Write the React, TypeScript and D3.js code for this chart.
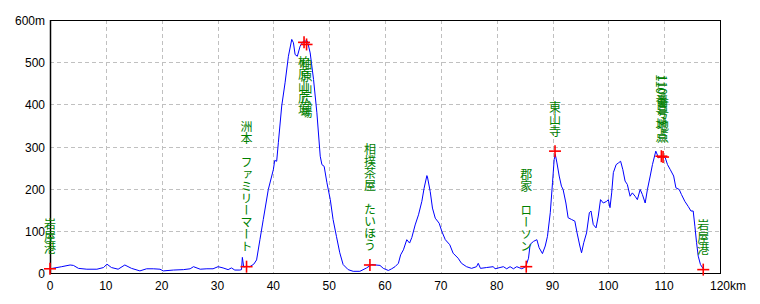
import React from "react";
import * as d3 from "d3";

const distKm = [
  0, 2.1, 3.6, 4.2, 5.1, 6.6, 8.4, 9.6, 10.2, 11.0, 12.2, 13.4, 14.6, 16.1, 17.3, 18.5, 19.7, 20.3, 22.1, 23.9,
  25.1, 25.7, 26.9, 28.1, 29.2, 30.1, 31.0, 31.9, 32.5, 33.1, 34.0, 34.3, 34.45, 34.7, 35.2, 35.8, 36.5, 37.0,
  37.6, 38.2, 39.1, 40.0, 40.25, 40.6, 40.9, 41.5, 42.1, 42.7, 43.3, 43.6, 43.9, 44.3, 44.8, 45.4, 46.1, 46.6,
  47.2, 47.8, 48.4, 48.7, 49.1, 49.6, 50.2, 50.7, 51.3, 51.9, 52.5, 53.4, 54.3, 55.5, 56.7, 57.6, 59.1, 59.7,
  60.6, 61.2, 61.8, 62.4, 62.8, 63.3, 63.9, 64.4, 64.8, 65.4, 66.0, 66.6, 67.0, 67.5, 67.6, 68.1, 68.5, 69.0,
  69.7, 70.2, 70.8, 71.6, 72.2, 73.1, 73.7, 74.6, 75.5, 76.4, 76.7, 77.1, 78.2, 79.4, 79.7, 80.6, 81.2, 81.8,
  82.4, 83.0, 83.6, 84.5, 85.2, 85.7, 86.0, 86.6, 87.2, 87.6, 88.2, 88.7, 89.1, 89.6, 90.0, 90.3, 90.5, 90.8,
  91.2, 91.6, 91.9, 92.4, 92.8, 93.4, 94.0, 94.4, 94.9, 95.2, 95.6, 96.1, 96.6, 96.9, 97.3, 97.8, 98.2, 98.6,
  99.1, 99.7, 100.0, 100.3, 100.6, 100.9, 101.4, 101.8, 102.2, 102.6, 103.0, 103.4, 103.9, 104.3, 104.8, 105.2,
  105.7, 106.1, 106.6, 107.0, 107.5, 107.9, 108.5, 109.0, 109.6, 110.2, 110.6, 111.1, 111.7, 112.1, 112.7,
  113.1, 113.7, 114.3, 114.8, 115.2, 115.5, 115.8, 116.1, 116.5, 117.0,
];
const elevM = [
  10, 15, 19, 18, 11, 9, 9, 13, 21, 13, 9, 19, 11, 5, 10, 10, 9, 5, 7, 8,
  10, 15, 9, 10, 10, 15, 12, 8, 12, 7, 7, 8, 37, 14, 16, 15, 21, 31,
  79, 127, 198, 245, 267, 265, 309, 396, 451, 514, 554, 546, 518, 514, 538, 550, 550, 522,
  459, 380, 277, 257, 253, 214, 174, 127, 87, 48, 20, 8, 4, 4, 12, 20, 18, 11,
  6, 10, 15, 23, 43, 55, 79, 71, 84, 114, 138, 170, 201, 231, 228, 193, 154, 130,
  118, 98, 79, 67, 47, 35, 23, 15, 11, 15, 23, 11, 13, 15, 10, 13, 15, 10,
  15, 10, 15, 10, 15, 35, 68, 75, 79, 60, 46, 64, 87, 143, 214, 269, 281, 261,
  230, 206, 198, 166, 131, 127, 123, 95, 64, 48, 72, 95, 143, 147, 115, 107, 135, 174,
  166, 170, 174, 155, 190, 238, 257, 261, 265, 245, 218, 210, 182, 190, 182, 174,
  198, 186, 166, 198, 230, 257, 289, 273, 277, 273, 257, 245, 230, 202, 198,
  186, 170, 158, 147, 147, 111, 72, 40, 20, 10,
];

const wpKm = [0, 35.2, 45.5, 45.95, 57.3, 85.3, 90.45, 109.5, 109.8, 117.0];
const wpElev = [10, 15, 547, 542, 19, 15, 289, 277, 275, 8];
const wpName = [
  "岩屋港",
  "洲本　ファミリーマート",
  "柏原山広場",
  "柏原山広場",
  "相撲茶屋　たいほう",
  "郡家　ローソン",
  "東山寺",
  "110番号地点",
  "110番号地点",
  "岩屋港",
];

const xTicks = [0, 10, 20, 30, 40, 50, 60, 70, 80, 90, 100, 110, 120];
const yTicks = [0, 100, 200, 300, 400, 500, 600];

const W = 760;
const H = 304;
const FONT = "'Liberation Sans', Arial, sans-serif";
const JFONT = "'Noto Sans CJK JP', sans-serif";

export default function App() {
  const x = d3.scaleLinear().domain([0, 120]).range([50, 720]);
  const y = d3.scaleLinear().domain([0, 600]).range([273, 20]);
  const line = d3
    .line<number>()
    .x((_, i) => x(distKm[i]))
    .y((d) => y(d));
  const path = line(elevM) || "";

  const labelLen = (s: string) => {
    let n = 0;
    for (const ch of s) n += /[0-9]/.test(ch) ? 6.7 : 12;
    return n;
  };

  return (
    <svg
      width={W}
      height={H}
      style={{ position: "absolute", left: 0, top: 0, background: "#fff" }}
    >
      <rect x={0} y={0} width={W} height={H} fill="#fff" />
      {xTicks
        .filter((t) => t > 0 && t < 120)
        .map((t) => (
          <line
            key={"gx" + t}
            x1={Math.round(x(t)) + 0.5}
            x2={Math.round(x(t)) + 0.5}
            y1={y(600)}
            y2={y(0)}
            stroke="#c0c0c0"
            strokeDasharray="4,3"
          />
        ))}
      {yTicks
        .filter((t) => t > 0 && t < 600)
        .map((t) => (
          <line
            key={"gy" + t}
            x1={x(0)}
            x2={x(120)}
            y1={Math.round(y(t)) + 0.5}
            y2={Math.round(y(t)) + 0.5}
            stroke="#c0c0c0"
            strokeDasharray="4,3"
          />
        ))}
      <rect
        x={x(0) + 0.5}
        y={y(600) + 0.5}
        width={x(120) - x(0)}
        height={y(0) - y(600)}
        fill="none"
        stroke="#000"
        strokeWidth={1}
      />
      <line x1={x(0) + 0.5} x2={x(0) + 0.5} y1={y(600)} y2={y(0) + 1} stroke="#000" strokeWidth={1.5} />
      {yTicks.map((t) => (
        <text
          key={"yl" + t}
          x={45}
          y={y(t) + 5}
          textAnchor="end"
          fontFamily={FONT}
          fontSize={12}
          fill="#000"
        >
          {t === 600 ? "600m" : String(t)}
        </text>
      ))}
      {xTicks.map((t) =>
        t === 120 ? (
          <text key={"xl" + t} x={x(t) - 10} y={290} fontFamily={FONT} fontSize={12} fill="#000">
            120km
          </text>
        ) : (
          <text
            key={"xl" + t}
            x={x(t)}
            y={290}
            textAnchor="middle"
            fontFamily={FONT}
            fontSize={12}
            fill="#000"
          >
            {t}
          </text>
        )
      )}
      <path d={path} fill="none" stroke="#0000ff" strokeWidth={1} />
      {wpKm.map((k, i) => {
        const cx = x(k);
        const cy = y(wpElev[i]);
        const len = labelLen(wpName[i]);
        const above = cy - 14 - len > y(600);
        return (
          <g key={"wp" + i}>
            <line x1={cx - 6} x2={cx + 6} y1={cy} y2={cy} stroke="#ff0000" strokeWidth={1.6} />
            <line x1={cx} x2={cx} y1={cy - 6} y2={cy + 6} stroke="#ff0000" strokeWidth={1.6} />
            <text
              x={cx}
              y={above ? cy - 14 : cy + 14}
              textAnchor={above ? "end" : "start"}
              fontFamily={JFONT}
              fontSize={12}
              fill="#008000"
              style={{ writingMode: "vertical-rl" } as React.CSSProperties}
            >
              {wpName[i]}
            </text>
          </g>
        );
      })}
    </svg>
  );
}
